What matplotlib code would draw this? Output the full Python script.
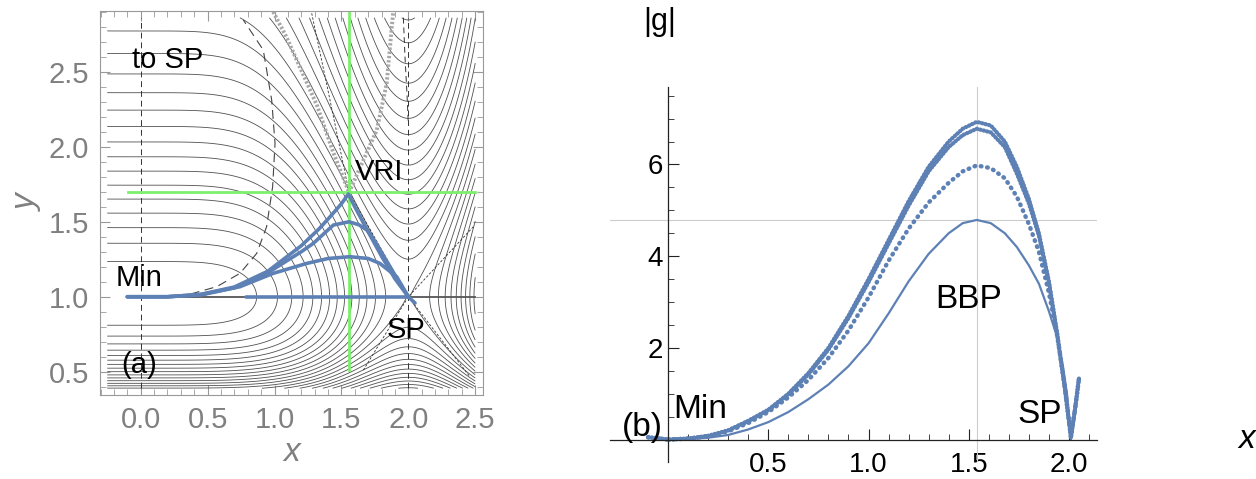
import numpy as np
import matplotlib
matplotlib.use("Agg")
import matplotlib.pyplot as plt
from matplotlib.ticker import MultipleLocator, FixedLocator

plt.rcParams['font.family'] = ['Liberation Sans', 'DejaVu Sans']

# ---------------- panel (a): data ----------------
# y where the contour lines cut the dashed line x=0 (level index 1, 2, ...)
x0_cut_up = [1.24, 1.36, 1.463, 1.56, 1.651, 1.745, 1.838, 1.933, 2.033,
             2.133, 2.245, 2.356, 2.485, 2.623, 2.773]
x0_cut_lo = [0.807, 0.738, 0.689, 0.645, 0.607, 0.578, 0.551, 0.525, 0.50,
             0.478, 0.458, 0.44, 0.423, 0.407]
# vertices of the contour lines on x=2 below the saddle (levels 16, 17, ...)
x2_cut_lo = [0.79, 0.733, 0.678, 0.622, 0.582, 0.545, 0.511, 0.485, 0.458,
             0.438, 0.418, 0.398]
# highest U-shaped line on x=2 and its level
x2_top = (2.69, 29)
min_level = 0.1
sp_level = 15.0

# reaction paths Min -> SP
top_x = [-0.1, 0.2, 0.45, 0.7, 0.95, 1.2, 1.33, 1.415, 1.5, 1.552, 1.6, 1.714, 1.8, 1.9, 2.0, 2.05]
top_y = [1.0, 1.0, 1.016, 1.065, 1.17, 1.34, 1.45, 1.533, 1.62, 1.685, 1.6, 1.41, 1.27, 1.12, 1.0, 0.958]
mid_x = [-0.1, 0.2, 0.45, 0.7, 0.95, 1.2, 1.29, 1.44, 1.557, 1.63, 1.69, 1.75, 1.85, 1.95, 2.0]
mid_y = [1.0, 1.0, 1.015, 1.06, 1.16, 1.3, 1.356, 1.478, 1.5, 1.48, 1.445, 1.37, 1.22, 1.07, 1.0]
low_x = [-0.1, 0.2, 0.45, 0.742, 0.99, 1.24, 1.4, 1.564, 1.7, 1.788, 1.913, 2.0]
low_y = [1.0, 1.0, 1.012, 1.067, 1.156, 1.222, 1.255, 1.267, 1.255, 1.222, 1.133, 1.0]
str_x = [0.79, 2.0]
str_y = [1.0, 1.0]

vri = (1.557, 1.696)

# auxiliary curves
ridge_l_x = [0.99, 1.09, 1.19, 1.32, 1.44, 1.557]
ridge_l_y = [2.9, 2.73, 2.53, 2.27, 1.96, 1.696]
ridge_r_x = [1.557, 1.664, 1.764, 1.838, 1.888]
ridge_r_y = [1.696, 1.91, 2.11, 2.42, 2.91]
nt1_x = [1.278, 1.415, 1.557, 2.0, 2.46]
nt1_y = [2.89, 2.31, 1.696, 1.0, 0.467]
nt2_x = [1.664, 2.0, 2.486]
nt2_y = [0.511, 1.0, 1.467]
ge_x = [0.16, 0.344, 0.568, 0.742, 0.867, 0.941, 0.986, 1.004, 0.979, 0.916, 0.767]
ge_y = [1.0, 1.011, 1.067, 1.156, 1.289, 1.467, 1.733, 2.022, 2.311, 2.645, 2.845]
dash2_x = [1.963, 1.975, 1.99, 2.0]
dash2_y = [2.86, 2.6, 2.35, 2.15]

# ---------------- panel (b): |g| along the paths ----------------
gx = [-0.1, 0.0, 0.1, 0.2, 0.3, 0.4, 0.5, 0.6, 0.7, 0.8, 0.9, 1.0, 1.1, 1.2,
      1.3, 1.4, 1.47, 1.54, 1.61, 1.68, 1.74, 1.8, 1.85, 1.9, 1.94, 1.97, 1.99, 2.01]
g_str = [0.05, 0.0, 0.01, 0.04, 0.1, 0.22, 0.38, 0.6, 0.88, 1.2, 1.6, 2.1, 2.75, 3.45,
         4.05, 4.5, 4.72, 4.79, 4.72, 4.5, 4.2, 3.8, 3.4, 2.8, 2.25, 1.6, 1.0, 0.0]
gx2 = [-0.1, 0.0, 0.1, 0.2, 0.3, 0.4, 0.5, 0.6, 0.7, 0.8, 0.9, 1.0, 1.1, 1.2, 1.3,
       1.4, 1.47, 1.54, 1.61, 1.68, 1.74, 1.8, 1.85, 1.9, 1.94, 1.98, 2.01, 2.03, 2.05]
g_low = [0.05, 0.0, 0.02, 0.07, 0.18, 0.36, 0.6, 0.92, 1.3, 1.78, 2.38, 3.1, 3.9, 4.6, 5.17,
         5.6, 5.85, 5.98, 5.92, 5.7, 5.3, 4.7, 4.1, 3.2, 2.3, 1.15, 0.05, 0.65, 1.33]
g_mid = [0.05, 0.0, 0.02, 0.08, 0.2, 0.4, 0.64, 0.98, 1.42, 1.96, 2.65, 3.43, 4.27, 5.1, 5.85,
         6.38, 6.64, 6.78, 6.7, 6.38, 5.8, 5.15, 4.45, 3.42, 2.33, 1.1, 0.05, 0.65, 1.33]
g_top = [0.05, 0.0, 0.02, 0.08, 0.2, 0.41, 0.65, 1.0, 1.45, 2.0, 2.7, 3.5, 4.35, 5.2, 5.95,
         6.5, 6.78, 6.93, 6.85, 6.5, 5.95, 5.25, 4.5, 3.45, 2.35, 1.1, 0.05, 0.65, 1.33]
bbp = (1.54, 4.79)

# ---------------- build the surface from the cuts ----------------
def basis(s, powers):
    return np.column_stack([s**p for p in powers])

yB = np.r_[1.0, x0_cut_up, x0_cut_lo]
LB = np.r_[min_level, np.arange(1, len(x0_cut_up) + 1), np.arange(1, len(x0_cut_lo) + 1)]
pB = [0, 2, 3, 4, 5, 6]
cB = np.linalg.lstsq(basis(np.log(yB), pB), LB, rcond=None)[0]
Bf = lambda y: basis(np.log(y), pB) @ cB

yA = np.r_[1.0, x2_cut_lo, x2_top[0]]
LA = np.r_[sp_level, np.arange(16, 16 + len(x2_cut_lo)), x2_top[1]]
pA = [0, 2, 3]
cA = np.linalg.lstsq(basis(np.log(yA), pA), LA - Bf(yA), rcond=None)[0]
Af = lambda y: basis(np.log(y), pA) @ cA

xq = np.linspace(-0.3, 2.6, 2901)
dq = xq**4 * (2 - xq) / (1 + (xq / 2.143)**8)
q = np.concatenate([[0], np.cumsum((dq[1:] + dq[:-1]) / 2 * np.diff(xq))])
q -= np.interp(0, xq, q)
q /= np.interp(2, xq, q)

xs = np.linspace(-0.25, 2.5, 500)
ys = np.linspace(0.39, 2.86, 500)
X, Y = np.meshgrid(xs, ys)
V = (Bf(Y.ravel()) + Af(Y.ravel()) * np.interp(X.ravel(), xq, q)).reshape(X.shape)

# ---------------- figure ----------------
fig = plt.figure(figsize=(12.56, 4.79), dpi=100)

ax1 = fig.add_axes([100 / 1256, 1 - 395 / 479, 383 / 1256, 384 / 479])
ax1.contour(X, Y, V, levels=np.arange(1, 60), colors='#505050',
            linewidths=0.6, linestyles='solid')

ax1.plot([-0.1, 2.5], [1, 1], color='#555555', lw=1.3)
ax1.plot([0, 0], [0.39, 2.86], color='#333333', lw=0.7, dashes=(6, 4))
ax1.plot([2.0, 2.0], [0.39, 2.86], color='#333333', lw=0.7, dashes=(6, 4))
ax1.plot(dash2_x, dash2_y, color='#333333', lw=0.7, dashes=(6, 4))
ax1.plot(ge_x, ge_y, color='#444444', lw=0.8, dashes=(8, 5))
ax1.plot(nt1_x, nt1_y, color='#333333', lw=0.6, dashes=(3, 2))
ax1.plot(nt2_x, nt2_y, color='#333333', lw=0.6, dashes=(3, 2))
ax1.plot(ridge_l_x, ridge_l_y, color='#a8a8a8', lw=2.8, linestyle=(0, (0.6, 0.5)))
ax1.plot(ridge_r_x, ridge_r_y, color='#a8a8a8', lw=2.8, linestyle=(0, (0.6, 0.5)))

green = '#7cf06c'
ax1.plot([vri[0], vri[0]], [0.51, 2.905], color=green, lw=2)
ax1.plot([-0.095, 2.5], [vri[1], vri[1]], color=green, lw=2)

blue = '#5e81b5'
for px_, py_ in [(str_x, str_y), (low_x, low_y), (mid_x, mid_y), (top_x, top_y)]:
    ax1.plot(px_, py_, color=blue, lw=2.6, solid_capstyle='round')

ax1.set_xlim(-0.304, 2.558)
ax1.set_ylim(0.345, 2.905)
ax1.xaxis.set_major_locator(FixedLocator([0, 0.5, 1, 1.5, 2, 2.5]))
ax1.yaxis.set_major_locator(FixedLocator([0.5, 1, 1.5, 2, 2.5]))
ax1.xaxis.set_minor_locator(MultipleLocator(0.1))
ax1.yaxis.set_minor_locator(MultipleLocator(0.1))
ax1.xaxis.set_major_formatter(lambda v, p: f'{v:.1f}')
ax1.yaxis.set_major_formatter(lambda v, p: f'{v:.1f}')
ax1.tick_params(which='both', direction='in', top=True, right=True,
                color='#999999', labelcolor='#808080', labelsize=21)
ax1.tick_params(which='major', length=7, width=0.8, pad=8)
ax1.tick_params(which='minor', length=4, width=0.6)
for s in ax1.spines.values():
    s.set_color('#999999')
ax1.set_xlabel('x', style='italic', color='#808080', fontsize=24, labelpad=2)
ax1.set_ylabel('y', style='italic', color='#808080', fontsize=24, labelpad=4)

tk = dict(fontsize=21, color='black', va='baseline')
ax1.text(-0.067, 2.523, 'to SP', **tk)
ax1.text(1.60, 1.778, 'VRI', **tk)
ax1.text(-0.19, 1.069, 'Min', **tk)
ax1.text(1.838, 0.723, 'SP', **tk)
ax1.text(-0.142, 0.49, '(a)', **tk)

# panel (b)
ax2 = fig.add_axes([610 / 1256, 1 - 462 / 479, 487 / 1256, 375 / 479])
ax2.axvline(bbp[0], color='#cccccc', lw=0.8)
ax2.axhline(bbp[1], color='#cccccc', lw=0.8)
ax2.plot(gx, g_str, color=blue, lw=1.6)
ax2.plot(gx2, g_low, color=blue, lw=3.2, linestyle=(0, (0.15, 1.3)),
         dash_capstyle='round')
ax2.plot(gx2, g_mid, color=blue, lw=3.0, linestyle=(0, (0.15, 0.7)),
         dash_capstyle='round')
ax2.plot(gx2, g_top, color=blue, lw=3.0, linestyle=(0, (0.15, 0.7)),
         dash_capstyle='round')

ax2.set_xlim(-0.29, 2.14)
ax2.set_ylim(-0.49, 7.69)
ax2.spines['left'].set_position(('data', 0))
ax2.spines['bottom'].set_position(('data', 0))
ax2.spines['top'].set_visible(False)
ax2.spines['right'].set_visible(False)
for s in ('left', 'bottom'):
    ax2.spines[s].set_color('#222222')
    ax2.spines[s].set_linewidth(0.9)
ax2.xaxis.set_major_locator(FixedLocator([0.5, 1.0, 1.5, 2.0]))
ax2.yaxis.set_major_locator(FixedLocator([2, 4, 6]))
ax2.xaxis.set_minor_locator(FixedLocator(np.arange(0.1, 2.15, 0.1)))
ax2.yaxis.set_minor_locator(FixedLocator(np.arange(0.5, 7.6, 0.5)))
ax2.xaxis.set_major_formatter(lambda v, p: f'{v:.1f}')
ax2.yaxis.set_major_formatter(lambda v, p: f'{v:.0f}')
ax2.tick_params(which='both', direction='in', color='#222222', labelsize=20)
ax2.tick_params(axis='x', which='major', length=8, pad=9)
ax2.tick_params(axis='y', which='major', length=8, pad=4)
ax2.tick_params(which='minor', length=4)

tb = dict(fontsize=24, color='black', va='baseline')
ax2.text(1.333, 2.86, 'BBP', **tb)
ax2.text(0.025, 0.48, 'Min', **tb)
ax2.text(1.742, 0.36, 'SP', **tb)
ax2.text(-0.233, 0.07, '(b)', **tb)
fig.text(660 / 1256, 1 - 30 / 479, '|g|', fontsize=22, ha='center', va='baseline')
fig.text(1247 / 1256, 1 - 440 / 479, 'x', fontsize=24, style='italic',
         ha='center', va='center')

fig.savefig('out.png', dpi=100)
